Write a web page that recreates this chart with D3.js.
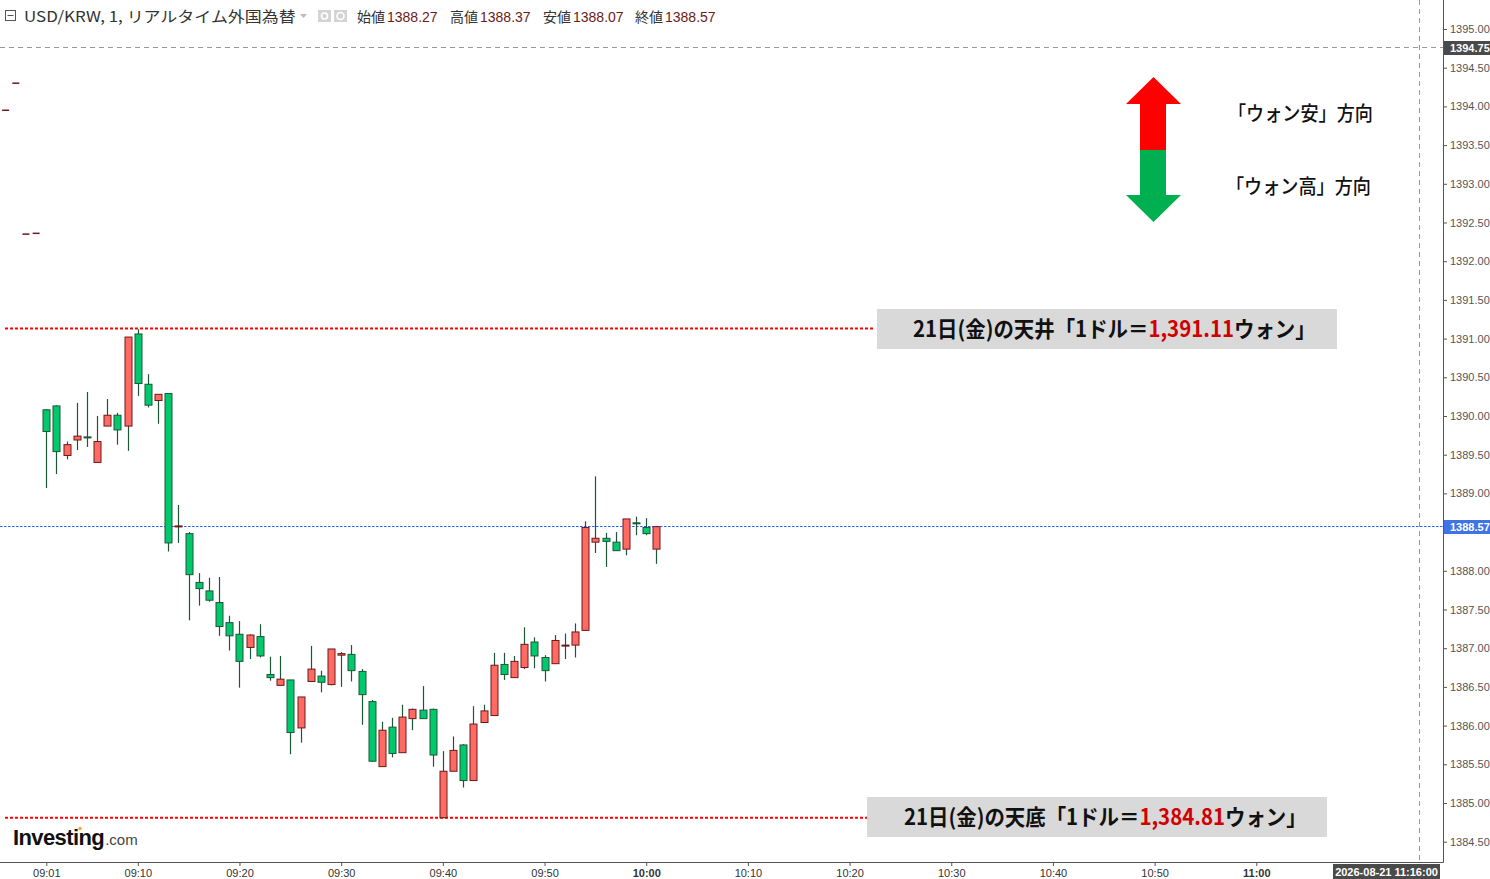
<!DOCTYPE html>
<html>
<head>
<meta charset="utf-8">
<script src="https://cdn.jsdelivr.net/npm/d3@7"></script>
<style>
  html, body { margin: 0; padding: 0; background: #ffffff; }
  svg { display: block; }
</style>
</head>
<body>
<div id="chart"></div>
<script>
// 1-minute candles, USD/KRW
const times  = ["09:01","09:02","09:03","09:04","09:05","09:06","09:07","09:08","09:09","09:10",
                "09:11","09:12","09:13","09:14","09:15","09:16","09:17","09:18","09:19","09:20",
                "09:21","09:22","09:23","09:24","09:25","09:26","09:27","09:28","09:29","09:30",
                "09:31","09:32","09:33","09:34","09:35","09:36","09:37","09:38","09:39","09:40",
                "09:41","09:42","09:43","09:44","09:45","09:46","09:47","09:48","09:49","09:50",
                "09:51","09:52","09:53","09:54","09:55","09:56","09:57","09:58","09:59","10:00","10:01"];
const opens  = [1390.08,1390.13,1389.49,1389.69,1389.73,1389.40,1389.87,1390.01,1389.87,1391.06,
                1390.41,1390.20,1390.29,1388.57,1388.48,1387.85,1387.74,1387.59,1387.33,1387.18,
                1387.01,1387.15,1386.66,1386.52,1386.59,1385.97,1386.57,1386.64,1386.53,1386.91,
                1386.92,1386.70,1386.31,1385.47,1385.98,1385.65,1386.09,1386.20,1386.21,1384.81,
                1385.41,1385.75,1385.29,1386.04,1386.13,1386.79,1386.62,1386.75,1387.08,1386.88,
                1386.80,1387.03,1387.04,1387.23,1388.37,1388.42,1388.37,1388.28,1388.62,1388.56,1388.28];
const highs  = [1390.09,1390.14,1389.67,1390.17,1390.31,1390.00,1390.22,1390.04,1391.02,1391.12,
                1390.54,1390.28,1390.29,1388.85,1388.50,1387.97,1387.91,1387.92,1387.42,1387.35,
                1387.18,1387.31,1386.89,1386.90,1386.59,1386.37,1387.03,1386.71,1386.99,1386.95,
                1387.04,1386.73,1386.33,1386.05,1386.10,1386.27,1386.22,1386.51,1386.22,1385.67,
                1385.86,1385.76,1386.25,1386.27,1386.94,1386.94,1386.90,1387.27,1387.14,1386.91,
                1387.17,1387.19,1387.32,1388.64,1389.22,1388.49,1388.50,1388.67,1388.70,1388.68,1388.57];
const lows   = [1389.07,1389.25,1389.44,1389.56,1389.60,1389.40,1389.87,1389.63,1389.55,1390.26,
                1390.11,1389.90,1388.25,1388.36,1387.36,1387.55,1387.60,1387.16,1386.97,1386.49,
                1386.86,1386.88,1386.58,1386.52,1385.63,1385.78,1386.57,1386.43,1386.52,1386.50,
                1386.57,1386.01,1385.53,1385.47,1385.59,1385.65,1385.94,1386.09,1385.47,1384.81,
                1385.41,1385.20,1385.29,1386.04,1386.13,1386.59,1386.62,1386.73,1386.74,1386.57,
                1386.80,1386.86,1386.88,1387.23,1388.23,1388.05,1388.26,1388.20,1388.46,1388.46,1388.09];
const closes = [1389.80,1389.54,1389.63,1389.74,1389.72,1389.67,1390.01,1389.82,1391.02,1390.42,
                1390.14,1390.28,1388.36,1388.58,1387.95,1387.77,1387.62,1387.28,1387.16,1386.83,
                1387.17,1386.90,1386.62,1386.60,1385.91,1386.37,1386.73,1386.56,1386.99,1386.93,
                1386.71,1386.40,1385.54,1385.94,1385.64,1386.11,1386.21,1386.09,1385.62,1385.41,
                1385.68,1385.29,1386.02,1386.19,1386.78,1386.66,1386.83,1387.05,1386.90,1386.71,
                1387.10,1387.04,1387.21,1388.56,1388.42,1388.38,1388.26,1388.67,1388.61,1388.48,1388.57];

// stray ticks left of the session start
const preTimes  = ["08:57","08:58","08:59","09:00"];
const prePrices = [1393.95,1394.30,1392.35,1392.36];

const xTickLabels = ["09:01","09:10","09:20","09:30","09:40","09:50","10:00",
                     "10:10","10:20","10:30","10:40","10:50","11:00"];
const yTickValues = [1384.5,1385.0,1385.5,1386.0,1386.5,1387.0,1387.5,1388.0,1388.5,1389.0,
                     1389.5,1390.0,1390.5,1391.0,1391.5,1392.0,1392.5,1393.0,1393.5,1394.0,1394.5,1395.0];

const ceilingPrice = 1391.11;
const floorPrice   = 1384.81;
const lastPrice    = 1388.57;
const crossPrice   = 1394.75;
const crossTime    = "11:16";
const crossStamp   = "2026-08-21 11:16:00";

const ohlcNames  = ["始値","高値","安値","終値"];
const ohlcValues = ["1388.27","1388.37","1388.07","1388.57"];

const W = 1490, H = 879;
const axisX = 1443, axisY = 862;
const FONT = "Arial, 'Liberation Sans', sans-serif";
const JP = "'Noto Sans CJK JP', 'Noto Sans', sans-serif";

const parse = d3.timeParse("%H:%M");
const candles = times.map((t, i) => ({ t: parse(t), o: opens[i], h: highs[i], l: lows[i], c: closes[i] }));

const x = d3.scaleTime().domain([parse("09:01"), parse(crossTime)]).range([46.3, 1419]);
const y = d3.scaleLinear().domain([1384.5, 1395]).range([841.7, 29]);

const svg = d3.select("#chart").append("svg")
	.attr("width", W).attr("height", H)
	.attr("viewBox", `0 0 ${W} ${H}`);

svg.append("rect").attr("width", W).attr("height", H).attr("fill", "#ffffff");

// squeeze a text horizontally so it spans the width seen in the picture
fitWidth = (sel, tx, ty, width)=>{
	let w = sel.node().getComputedTextLength();
	sel.attr("transform", `translate(${tx},${ty}) scale(${width / w},1)`);
	return sel;
}

// ---- header ----
let hdr = svg.append("g").attr("font-family", FONT);
hdr.append("rect").attr("x", 5.5).attr("y", 10.5).attr("width", 10).attr("height", 10)
	.attr("fill", "none").attr("stroke", "#555").attr("stroke-width", 1);
hdr.append("line").attr("x1", 7.5).attr("x2", 13.5).attr("y1", 15.5).attr("y2", 15.5)
	.attr("stroke", "#555");
let ttl = hdr.append("text")
	.attr("font-family", JP).attr("font-size", 15).attr("fill", "#333")
	.text("USD/KRW, 1, リアルタイム外国為替");
fitWidth(ttl, 24, 22, 272);
hdr.append("path").attr("d", "M300,14 L307,14 L303.5,18 Z").attr("fill", "#bbb");
[318, 334].forEach((ix, k) => {
	hdr.append("rect").attr("x", ix).attr("y", 10).attr("width", 13).attr("height", 12)
		.attr("fill", "#d4d4d4");
	hdr.append("circle").attr("cx", ix + 6.5).attr("cy", 16).attr("r", k ? 3.5 : 3)
		.attr("fill", "none").attr("stroke", "#fff").attr("stroke-width", 1.6);
});
const ohlcX = [357, 450, 543, 635];
ohlcNames.forEach((n, i) => {
	let t = hdr.append("text").attr("x", ohlcX[i]).attr("y", 22).attr("font-size", 14);
	t.append("tspan").attr("font-family", JP).attr("fill", "#333").text(n);
	t.append("tspan").attr("dx", 2).attr("fill", "#6b1a1a").text(ohlcValues[i]);
});

// ---- axes ----
let yAxisG = svg.append("g")
	.attr("transform", `translate(${axisX},0)`)
	.call(d3.axisRight(y).tickValues(yTickValues).tickFormat(d3.format(".2f")).tickSize(4).tickPadding(3));
yAxisG.select(".domain").remove();
yAxisG.selectAll("text").attr("font-family", FONT).attr("font-size", 11).attr("fill", "#555")
	.attr("display", d => Math.abs(y(d) - y(lastPrice)) < 12 || Math.abs(y(d) - y(crossPrice)) < 12 ? "none" : null);
yAxisG.selectAll("line").attr("stroke", "#555");

let xAxisG = svg.append("g")
	.attr("transform", `translate(0,${axisY})`)
	.call(d3.axisBottom(x).tickValues(xTickLabels.map(parse)).tickFormat(d3.timeFormat("%H:%M")).tickSize(4).tickPadding(3));
xAxisG.select(".domain").remove();
xAxisG.selectAll("text").attr("font-family", FONT).attr("font-size", 11).attr("fill", "#333")
	.attr("font-weight", d => d.getMinutes() === 0 ? "bold" : "normal");
xAxisG.selectAll("line").attr("stroke", "#555");

svg.append("line").attr("x1", axisX + 0.5).attr("x2", axisX + 0.5).attr("y1", 0).attr("y2", axisY + 0.5)
	.attr("stroke", "#555");
svg.append("line").attr("x1", 0).attr("x2", axisX + 0.5).attr("y1", axisY + 0.5).attr("y2", axisY + 0.5)
	.attr("stroke", "#555");

// ---- reference lines ----
svg.append("line").attr("x1", 0).attr("x2", axisX).attr("y1", Math.round(y(lastPrice)) - 0.5).attr("y2", Math.round(y(lastPrice)) - 0.5)
	.attr("stroke", "#2f62ff").attr("stroke-width", 1.2).attr("stroke-dasharray", "2.5,1.5");
svg.append("line").attr("x1", 0).attr("x2", axisX).attr("y1", Math.round(y(crossPrice)) - 0.5).attr("y2", Math.round(y(crossPrice)) - 0.5)
	.attr("stroke", "#999").attr("stroke-width", 1).attr("stroke-dasharray", "5,4");
svg.append("line").attr("x1", Math.round(x(parse(crossTime))) + 0.5).attr("x2", Math.round(x(parse(crossTime))) + 0.5)
	.attr("y1", 0).attr("y2", axisY)
	.attr("stroke", "#999").attr("stroke-width", 1).attr("stroke-dasharray", "5,4");

svg.append("line").attr("x1", 5).attr("x2", 875).attr("y1", y(ceilingPrice) - 1.5).attr("y2", y(ceilingPrice) - 1.5)
	.attr("stroke", "#ff0000").attr("stroke-width", 2).attr("stroke-dasharray", "3,2");
svg.append("line").attr("x1", 5).attr("x2", 867).attr("y1", y(floorPrice)).attr("y2", y(floorPrice))
	.attr("stroke", "#ff0000").attr("stroke-width", 2).attr("stroke-dasharray", "3,2");

// ---- candles ----
const bw = 7;
let cg = svg.append("g");
cg.selectAll("line.wick").data(candles).enter().append("line")
	.attr("class", "wick")
	.attr("x1", d => Math.round(x(d.t)) + 0.5).attr("x2", d => Math.round(x(d.t)) + 0.5)
	.attr("y1", d => y(d.h)).attr("y2", d => y(d.l))
	.attr("stroke", "#1e5638").attr("stroke-width", 1.2);
cg.selectAll("rect.body").data(candles).enter().append("rect")
	.attr("class", "body")
	.attr("x", d => Math.round(x(d.t)) - bw / 2 + 0.5)
	.attr("y", d => y(Math.max(d.o, d.c)))
	.attr("width", bw)
	.attr("height", d => Math.max(1, Math.abs(y(d.o) - y(d.c))))
	.attr("fill", d => d.c >= d.o ? "#ff6a62" : "#00c96d")
	.attr("stroke", d => d.c >= d.o ? "#6b1a1a" : "#1e5638")
	.attr("stroke-width", 1);

cg.selectAll("line.pre").data(preTimes).enter().append("line")
	.attr("class", "pre")
	.attr("x1", d => x(parse(d)) - 3.5).attr("x2", d => x(parse(d)) + 3.5)
	.attr("y1", (d, i) => y(prePrices[i])).attr("y2", (d, i) => y(prePrices[i]))
	.attr("stroke", "#6b1a1a").attr("stroke-width", 1.5);

// ---- axis value boxes ----
yBox = (val, fill)=>{
	let cy = Math.round(y(val));
	svg.append("rect").attr("x", axisX + 1).attr("y", cy - 7).attr("width", W - axisX - 1).attr("height", 14)
		.attr("fill", fill);
	svg.append("text").attr("x", axisX + 7).attr("y", cy + 4)
		.attr("font-family", FONT).attr("font-size", 11).attr("font-weight", "bold").attr("fill", "#fff")
		.text(d3.format(".2f")(val));
}
yBox(crossPrice, "#4a4a4a");
yBox(lastPrice, "#3f74e6");

svg.append("rect").attr("x", 1333).attr("y", 864).attr("width", 107).attr("height", 15).attr("fill", "#4a4a4a");
svg.append("text").attr("x", 1386.5).attr("y", 876).attr("text-anchor", "middle")
	.attr("font-family", FONT).attr("font-size", 11).attr("font-weight", "bold").attr("fill", "#fff")
	.text(crossStamp);

// ---- annotation boxes ----
noteBox = (bx, by, label, price, tx)=>{
	svg.append("rect").attr("x", bx).attr("y", by).attr("width", 460).attr("height", 40).attr("fill", "#d9d9d9");
	let t = svg.append("text")
		.attr("font-family", JP).attr("font-size", 22).attr("font-weight", "bold").attr("fill", "#111");
	t.append("tspan").text(label + "「1ドル＝");
	t.append("tspan").attr("fill", "#d00000").text(d3.format(",.2f")(price));
	t.append("tspan").text("ウォン」");
	fitWidth(t, tx, by + 28, 403);
}
noteBox(877, 309, "21日(金)の天井", ceilingPrice, 913);
noteBox(867, 797, "21日(金)の天底", floorPrice, 904);

// ---- direction arrow ----
svg.append("path").attr("d", "M1153.5,77 L1181,104 L1166,104 L1166,150 L1140,150 L1140,104 L1126,104 Z")
	.attr("fill", "#ff0000");
svg.append("path").attr("d", "M1140,150 L1166,150 L1166,195 L1181,195 L1153.5,222 L1126,195 L1140,195 Z")
	.attr("fill", "#00b050");
let up = svg.append("text")
	.attr("font-family", JP).attr("font-size", 20).attr("font-weight", 500).attr("fill", "#111")
	.text("「ウォン安」方向");
fitWidth(up, 1228, 121, 145);
let dn = svg.append("text")
	.attr("font-family", JP).attr("font-size", 20).attr("font-weight", 500).attr("fill", "#111")
	.text("「ウォン高」方向");
fitWidth(dn, 1226, 194, 145);

// ---- logo ----
let logo = svg.append("text").attr("x", 13).attr("y", 845).attr("font-family", FONT);
logo.append("tspan").attr("font-size", 22).attr("font-weight", "bold").attr("fill", "#111")
	.attr("letter-spacing", -0.6).text("Investing");
logo.append("tspan").attr("font-size", 15).attr("fill", "#444").attr("dx", 1).text(".com");
svg.append("circle").attr("cx", 80).attr("cy", 828.5).attr("r", 1.7).attr("fill", "#f5a623");
</script>
</body>
</html>
